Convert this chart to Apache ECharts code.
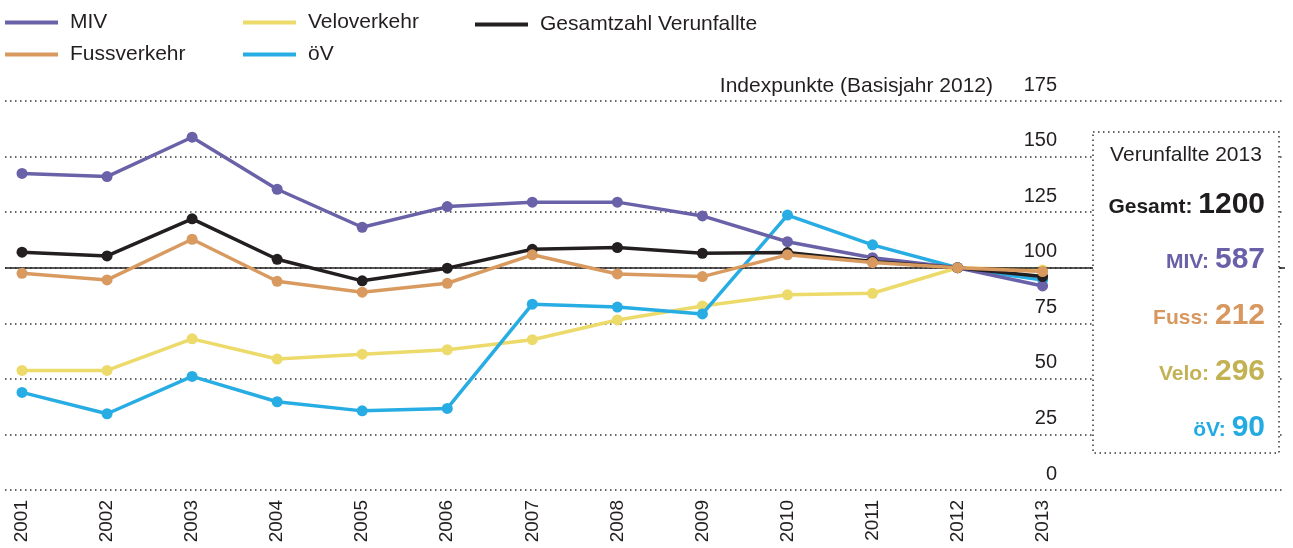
<!DOCTYPE html>
<html>
<head>
<meta charset="utf-8">
<script src="https://cdn.jsdelivr.net/npm/echarts@6/dist/echarts.min.js"></script>
<style>
  html, body { margin: 0; padding: 0; background: #fff; }
  #chart { width: 1293px; height: 548px; }
</style>
</head>
<body>
<div id="chart"></div>
<script>
// Jahre (x-Achse)
var years = [2001, 2002, 2003, 2004, 2005, 2006, 2007, 2008, 2009, 2010, 2011, 2012, 2013];
// Indexpunkte, Basisjahr 2012 = 100
var miv = [142.4, 141.0, 158.7, 135.3, 118.2, 127.5, 129.5, 129.5, 123.3, 111.7, 104.5, 100, 91.8];
var fuss = [97.5, 94.5, 112.8, 93.9, 89.0, 93.0, 105.8, 97.2, 96.0, 105.8, 102.3, 100, 98.3];
var velo = [53.8, 53.8, 68.0, 58.9, 61.1, 63.1, 67.6, 76.5, 82.8, 87.8, 88.5, 100, 99.0];
var oev = [43.9, 34.3, 51.1, 39.7, 35.6, 36.7, 83.6, 82.3, 79.2, 123.7, 110.3, 100, 94.5];
var gesamt = [107.0, 105.3, 122.0, 103.8, 94.1, 99.8, 108.3, 109.1, 106.5, 106.8, 102.8, 100, 96.0];
// Kasten rechts: Verunfallte 2013
var boxLabels = ['Gesamt:', 'MIV:', 'Fuss:', 'Velo:', 'öV:'];
var boxValues = [1200, 587, 212, 296, 90];

var FONT = '"Liberation Sans", Arial, Helvetica, sans-serif';
var colors = {
  miv: '#6a62a8',
  fuss: '#d99a60',
  velo: '#ecda6a',
  oev: '#27ade3',
  gesamt: '#231f20'
};
var boxColors = ['#1f1c1d', '#6a60a8', '#d8975e', '#c3b254', '#22abe2'];

function pairs(arr) {
  return arr.map(function (v, i) { return [years[i], v]; });
}

function lineSeries(name, data, color, z) {
  return {
    name: name,
    type: 'line',
    data: pairs(data),
    z: z,
    symbol: 'circle',
    symbolSize: 11,
    lineStyle: { color: color, width: 3.5 },
    itemStyle: { color: color },
    emphasis: { disabled: true },
    animation: false
  };
}

var dotted = { color: '#333', width: 1.5, type: [1.5, 3.5] };

var chart = echarts.init(document.getElementById('chart'));

// Kasten mit den Zahlen 2013
var graphics = [
  {
    type: 'rect',
    z: 100,
    shape: { x: 1093, y: 132, width: 186, height: 321 },
    style: { fill: '#fff', stroke: '#333', lineWidth: 1.5, lineDash: [1.5, 3.5] }
  },
  {
    type: 'text',
    z: 101,
    style: {
      x: 1186, y: 155, text: 'Verunfallte 2013',
      font: '21px ' + FONT, fill: '#231f20', align: 'center', verticalAlign: 'middle'
    }
  }
];
var baselines = [214, 269, 325, 381, 437];
boxLabels.forEach(function (lab, i) {
  graphics.push({
    type: 'text',
    z: 101,
    style: {
      x: 1265,
      y: baselines[i] + 6,
      align: 'right',
      verticalAlign: 'bottom',
      text: '{a|' + lab + ' }{b|' + boxValues[i] + '}',
      rich: {
        a: {
          fontFamily: FONT, fontWeight: 'bold', fontSize: 21, lineHeight: 21,
          fill: boxColors[i], verticalAlign: 'bottom', padding: [0, 0, 2, 0]
        },
        b: {
          fontFamily: FONT, fontWeight: 'bold', fontSize: 30, lineHeight: 30,
          fill: boxColors[i], verticalAlign: 'bottom'
        }
      }
    }
  });
});
graphics.push({
  type: 'text',
  style: {
    x: 993, y: 86, text: 'Indexpunkte (Basisjahr 2012)',
    font: '21px ' + FONT, fill: '#231f20', align: 'right', verticalAlign: 'middle'
  }
});

var legendBase = {
  orient: 'vertical',
  icon: 'rect',
  padding: 0,
  itemWidth: 53,
  itemHeight: 4,
  itemGap: 11,
  selectedMode: false,
  textStyle: { fontFamily: FONT, fontSize: 21, color: '#231f20', lineHeight: 21, padding: [0, 0, 0, 7] }
};

var option = {
  animation: false,
  legend: [
    Object.assign({}, legendBase, { left: 5, top: 12, data: ['MIV', 'Fussverkehr'] }),
    Object.assign({}, legendBase, { left: 243, top: 12, data: ['Veloverkehr', 'öV'] }),
    Object.assign({}, legendBase, { left: 475, top: 14, data: ['Gesamtzahl Verunfallte'] })
  ],
  grid: { left: 5, right: 8, top: 101, bottom: 58, outerBoundsMode: 'none' },
  xAxis: {
    type: 'value',
    min: 2000.8,
    max: 2015.85,
    axisLine: { show: false },
    axisTick: { show: false },
    splitLine: { show: false },
    axisLabel: {
      customValues: years,
      rotate: 90,
      margin: 10,
      fontFamily: FONT,
      fontSize: 19,
      color: '#231f20',
      formatter: function (v) { return String(v); }
    }
  },
  yAxis: {
    type: 'value',
    position: 'right',
    min: 0,
    max: 175,
    interval: 25,
    axisLine: { show: false },
    axisTick: { show: false },
    splitLine: { show: true, lineStyle: dotted },
    axisLabel: {
      inside: true,
      margin: 228,
      verticalAlign: 'bottom',
      lineHeight: 20,
      padding: [0, 0, 6, 0],
      fontFamily: FONT,
      fontSize: 20,
      color: '#231f20'
    }
  },
  series: [
    lineSeries('MIV', miv, colors.miv, 4),
    lineSeries('Fussverkehr', fuss, colors.fuss, 6),
    lineSeries('Veloverkehr', velo, colors.velo, 2),
    lineSeries('öV', oev, colors.oev, 3),
    Object.assign(lineSeries('Gesamtzahl Verunfallte', gesamt, colors.gesamt, 5), {
      markLine: {
        silent: true,
        symbol: 'none',
        label: { show: false },
        lineStyle: { color: '#231f20', width: 1.5, type: 'solid' },
        data: [{ yAxis: 100 }]
      }
    })
  ],
  graphic: graphics
};

chart.setOption(option);
</script>
</body>
</html>
